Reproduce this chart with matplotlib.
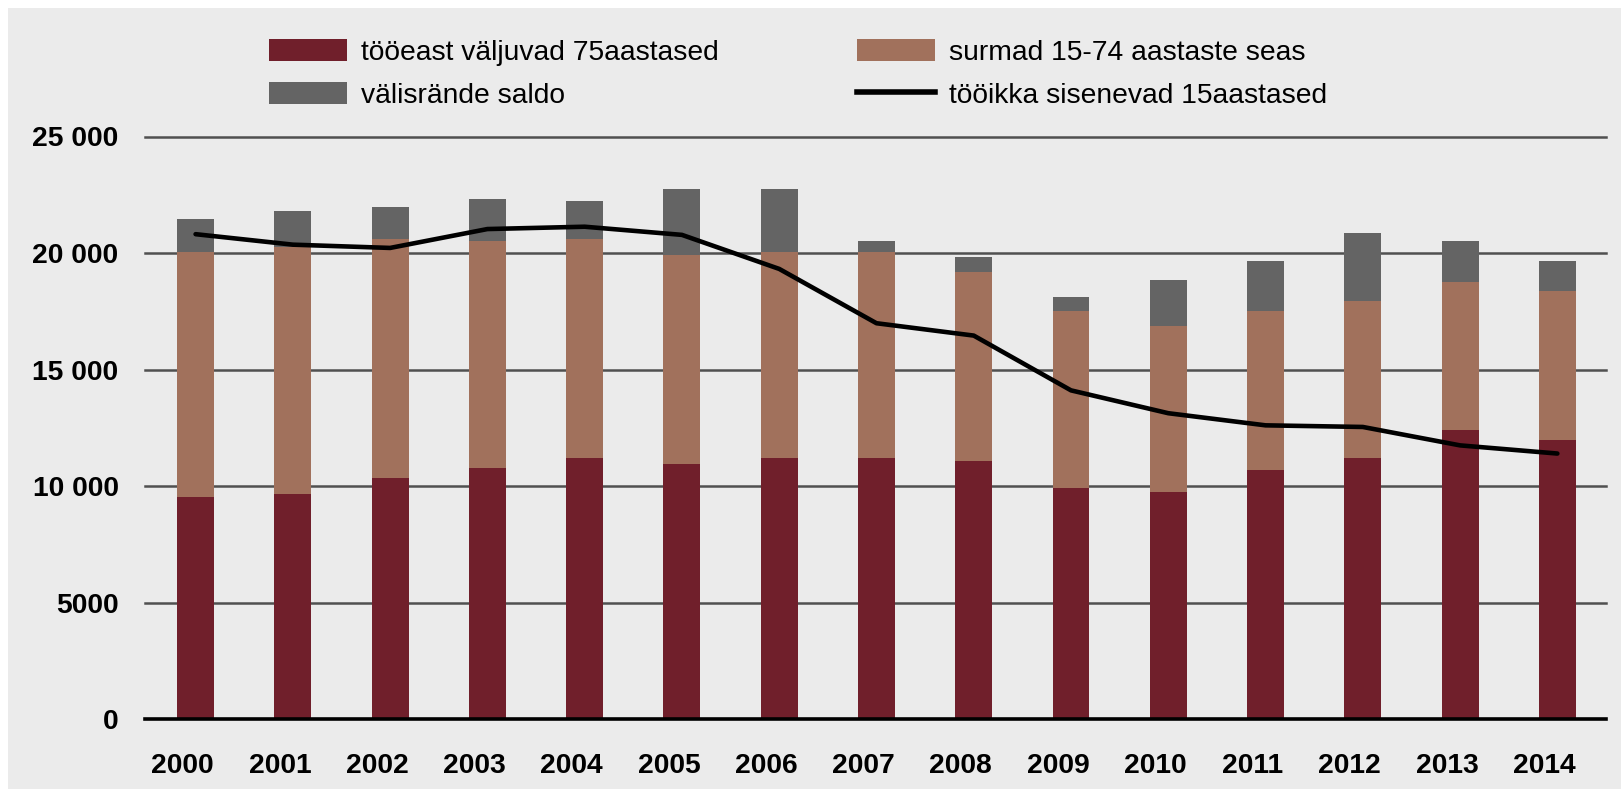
import matplotlib
matplotlib.use("Agg")
import matplotlib.pyplot as plt
from matplotlib.patches import Patch, Rectangle
from matplotlib.lines import Line2D
import matplotlib.transforms as mtransforms
import numpy as np

plt.rcParams['font.family'] = ['Liberation Sans', 'DejaVu Sans']

years = ['2000', '2001', '2002', '2003', '2004', '2005', '2006', '2007',
         '2008', '2009', '2010', '2011', '2012', '2013', '2014']
valjuvad75 = [9540, 9680, 10370, 10800, 11220, 10970, 11220, 11220,
              11080, 9940, 9750, 10710, 11220, 12420, 11990]
surmad = [10490, 10560, 10230, 9730, 9390, 8960, 8810, 8810,
          8090, 7590, 7110, 6820, 6740, 6320, 6400]
valisrande = [1430, 1560, 1380, 1780, 1620, 2810, 2710, 500,
              670, 600, 1990, 2140, 2910, 1790, 1260]
sisenevad15 = [20810, 20360, 20220, 21030, 21130, 20780, 19320, 16990,
               16460, 14110, 13130, 12610, 12540, 11750, 11400]
yticks = [0, 5000, 10000, 15000, 20000, 25000]
ytick_labels = ['0', '5000', '10 000', '15 000', '20 000', '25 000']

labels = ['tööeast väljuvad 75aastased', 'surmad 15-74 aastaste seas',
          'välisrände saldo', 'tööikka sisenevad 15aastased']

c_red = '#701f2b'
c_brown = '#a1715c'
c_gray = '#646464'
c_bg = '#ebebeb'

W, H = 1621, 792
fig = plt.figure(figsize=(W / 100, H / 100), dpi=100, facecolor='white')
fig.patches.append(Rectangle((8 / W, 3 / H), 1 - 8 / W, (789 - 8) / H,
                             transform=fig.transFigure, facecolor=c_bg,
                             edgecolor='none', zorder=-10))

ax = fig.add_axes([145 / W, (H - 719.3) / H, 1461 / W, (719.3 - 136.5) / H])
ax.set_facecolor('none')

x = np.arange(len(years))
bw = 0.38
red = np.array(valjuvad75)
brown = np.array(surmad)
gray = np.array(valisrande)

for t in yticks[1:]:
    ax.axhline(t, color='#505050', lw=1.8, zorder=1, clip_on=False)
ax.axhline(0, color='black', lw=2.6, zorder=4, clip_on=False)

ax.bar(x, red, bw, color=c_red, zorder=2)
ax.bar(x, brown, bw, bottom=red, color=c_brown, zorder=2)
ax.bar(x, gray, bw, bottom=red + brown, color=c_gray, zorder=2)
ax.plot(x, sisenevad15, color='black', lw=3.3, zorder=5,
        solid_joinstyle='round', solid_capstyle='round')

ax.set_xlim(-0.52, 14.50)
ax.set_ylim(0, 25000)
ax.set_yticks(yticks)
ax.set_yticklabels(ytick_labels)
ax.set_xticks(x)
ax.set_xticklabels(years)
ax.tick_params(axis='y', length=0, pad=19, labelsize=20.3)
ax.tick_params(axis='x', length=0, pad=24, labelsize=20.3)
shift = mtransforms.ScaledTranslation(-13 / 100, 0, fig.dpi_scale_trans)
for lbl in ax.get_xticklabels():
    lbl.set_fontweight('bold')
    lbl.set_transform(lbl.get_transform() + shift)
for lbl in ax.get_yticklabels():
    lbl.set_fontweight('bold')
for s in ax.spines.values():
    s.set_visible(False)

h_red = Patch(facecolor=c_red)
h_gray = Patch(facecolor=c_gray)
h_brown = Patch(facecolor=c_brown)
h_line = Line2D([], [], color='black', lw=4)

fs = 20.3
kw = dict(frameon=False, fontsize=fs, handlelength=2.77, handleheight=0.82,
          handletextpad=0.5, labelspacing=0.58, borderpad=0, borderaxespad=0,
          loc='upper left')
leg1 = fig.legend([h_red, h_gray], [labels[0], labels[2]],
                  bbox_to_anchor=(268.7 / W, 1 - 39 / H), **kw)
leg2 = fig.legend([h_brown, h_line], [labels[1], labels[3]],
                  bbox_to_anchor=(856.5 / W, 1 - 39 / H), **kw)

fig.savefig('out.png', dpi=100, facecolor='white')
